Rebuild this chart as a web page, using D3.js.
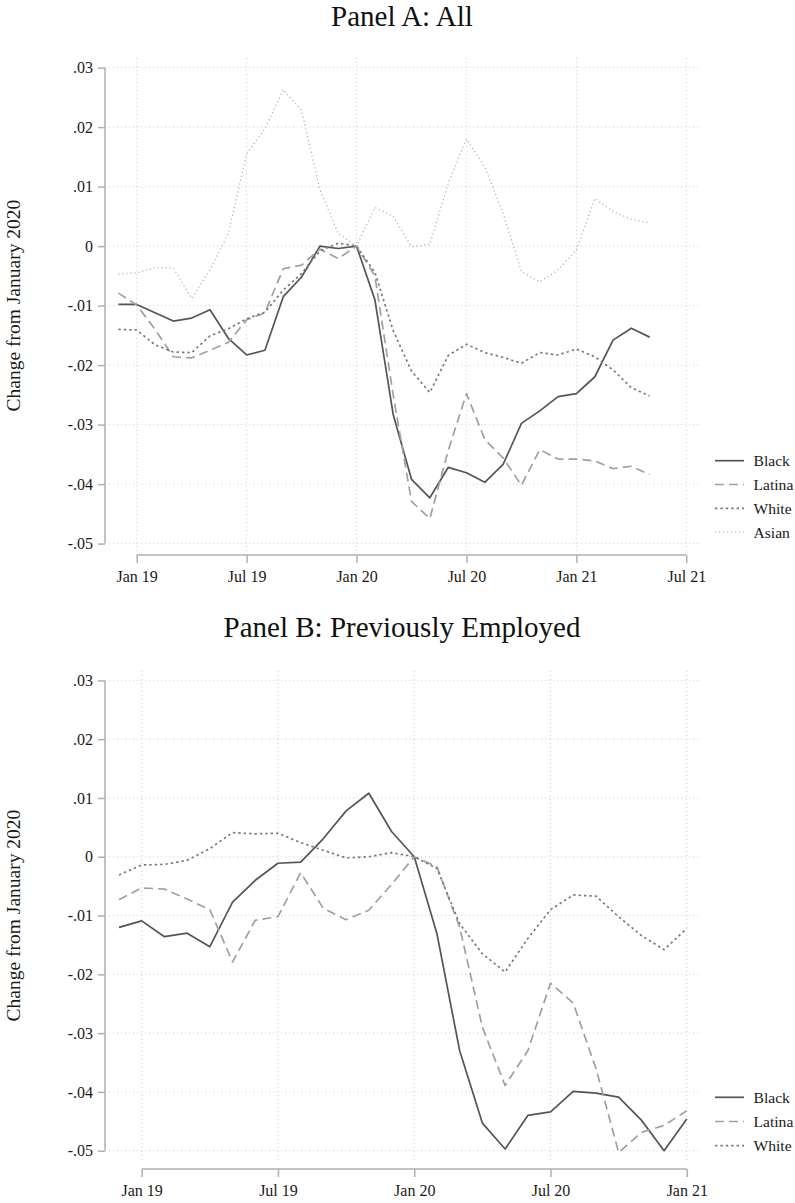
<!DOCTYPE html>
<html>
<head>
<meta charset="utf-8">
<script src="https://cdn.jsdelivr.net/npm/d3@7"></script>
<style>
  html, body { margin: 0; padding: 0; background: #fff; }
  svg { display: block; font-family: "Liberation Serif", "Times New Roman", serif; }
</style>
</head>
<body>
<svg id="chart" width="795" height="1203"></svg>
<script>
// ---- Panel A: All (Dec 2018 – May 2021) ----
const monthsA = ["2018-12","2019-01","2019-02","2019-03","2019-04","2019-05","2019-06","2019-07","2019-08","2019-09","2019-10","2019-11","2019-12","2020-01","2020-02","2020-03","2020-04","2020-05","2020-06","2020-07","2020-08","2020-09","2020-10","2020-11","2020-12","2021-01","2021-02","2021-03","2021-04","2021-05"];
const blackA  = [-0.0098,-0.0098,-0.0112,-0.0126,-0.0121,-0.0107,-0.0155,-0.0183,-0.0175,-0.0085,-0.0052,0.0000,-0.0004,0.0000,-0.0090,-0.0283,-0.0392,-0.0423,-0.0372,-0.0381,-0.0397,-0.0367,-0.0298,-0.0277,-0.0253,-0.0248,-0.0220,-0.0158,-0.0138,-0.0153];
const latinaA = [-0.0079,-0.0099,-0.0140,-0.0186,-0.0188,-0.0175,-0.0162,-0.0124,-0.0112,-0.0038,-0.0032,-0.0005,-0.0021,0.0000,-0.0050,-0.0250,-0.0429,-0.0458,-0.0344,-0.0248,-0.0325,-0.0356,-0.0402,-0.0342,-0.0358,-0.0358,-0.0361,-0.0374,-0.0370,-0.0384];
const whiteA  = [-0.0140,-0.0141,-0.0166,-0.0178,-0.0179,-0.0151,-0.0139,-0.0122,-0.0111,-0.0074,-0.0046,-0.0008,0.0005,0.0000,-0.0044,-0.0142,-0.0210,-0.0246,-0.0184,-0.0165,-0.0179,-0.0187,-0.0197,-0.0179,-0.0183,-0.0173,-0.0186,-0.0208,-0.0238,-0.0252];
const asianA  = [-0.0047,-0.0045,-0.0036,-0.0037,-0.0088,-0.0040,0.0021,0.0155,0.0197,0.0263,0.0228,0.0095,0.0021,0.0000,0.0065,0.0050,-0.0001,0.0003,0.0105,0.0180,0.0133,0.0055,-0.0043,-0.0060,-0.0040,-0.0007,0.0080,0.0058,0.0045,0.0039];

// ---- Panel B: Previously Employed (Dec 2018 – Jan 2021) ----
const monthsB = ["2018-12","2019-01","2019-02","2019-03","2019-04","2019-05","2019-06","2019-07","2019-08","2019-09","2019-10","2019-11","2019-12","2020-01","2020-02","2020-03","2020-04","2020-05","2020-06","2020-07","2020-08","2020-09","2020-10","2020-11","2020-12","2021-01"];
const blackB  = [-0.0120,-0.0109,-0.0136,-0.0130,-0.0153,-0.0077,-0.0040,-0.0011,-0.0009,0.0031,0.0078,0.0108,0.0043,0.0000,-0.0131,-0.0330,-0.0453,-0.0497,-0.0440,-0.0434,-0.0399,-0.0402,-0.0409,-0.0448,-0.0500,-0.0446];
const latinaB = [-0.0073,-0.0053,-0.0055,-0.0072,-0.0090,-0.0179,-0.0108,-0.0102,-0.0027,-0.0088,-0.0107,-0.0091,-0.0047,0.0000,-0.0017,-0.0120,-0.0290,-0.0389,-0.0330,-0.0215,-0.0249,-0.0360,-0.0503,-0.0469,-0.0457,-0.0432];
const whiteB  = [-0.0031,-0.0014,-0.0013,-0.0006,0.0014,0.0041,0.0039,0.0040,0.0024,0.0011,-0.0002,0.0000,0.0007,0.0000,-0.0020,-0.0114,-0.0165,-0.0196,-0.0139,-0.0090,-0.0065,-0.0067,-0.0102,-0.0134,-0.0158,-0.0122];

// ---- Axis ticks ----
const yTicks      = [0.03, 0.02, 0.01, 0, -0.01, -0.02, -0.03, -0.04, -0.05];
const yTickLabels = [".03", ".02", ".01", "0", "-.01", "-.02", "-.03", "-.04", "-.05"];
const xTicksA      = ["2019-01","2019-07","2020-01","2020-07","2021-01","2021-07"];
const xTickLabelsA = ["Jan 19","Jul 19","Jan 20","Jul 20","Jan 21","Jul 21"];
const xTicksB      = ["2019-01","2019-07","2020-01","2020-07","2021-01"];
const xTickLabelsB = ["Jan 19","Jul 19","Jan 20","Jul 20","Jan 21"];

const groupNames = ["Black", "Latina", "White", "Asian"];
const yLabel = "Change from January 2020";

// Line styles per group
const styles = {
  Black:  { stroke: "#555555", width: 1.7, dash: null },
  Latina: { stroke: "#a0a0a0", width: 1.7, dash: "9,5" },
  White:  { stroke: "#7a7a7a", width: 1.7, dash: "2.4,3" },
  Asian:  { stroke: "#b2b2b2", width: 1.3, dash: "1.2,2.8" }
};

// monthly index, 0 = Jan 2019
const monthIndex = s => { const [y, m] = s.split("-").map(Number); return (y - 2019) * 12 + (m - 1); };

const svg = d3.select("#chart");
const textColor = "#1a1a1a";
const axisColor = "#b0b0b0";
const gridColor = "#cfcfcf";
const tickFont = 16;

function drawPanel(cfg) {
  const g = svg.append("g");
  const x = d3.scaleLinear().domain([0, cfg.lastTick]).range([cfg.x0, cfg.x1]);
  const y = d3.scaleLinear().domain([-0.05, 0.03]).range([cfg.yBottom, cfg.yTop]);

  // title
  g.append("text")
    .attr("x", 402).attr("y", cfg.titleY)
    .attr("text-anchor", "middle")
    .attr("font-size", 29).attr("fill", "#111")
    .text(cfg.title);

  // y label
  g.append("text")
    .attr("transform", `translate(${20},${(cfg.yTop + cfg.yBottom) / 2}) rotate(-90)`)
    .attr("text-anchor", "middle")
    .attr("font-size", 19.5).attr("fill", textColor)
    .text(yLabel);

  // grid
  const grid = g.append("g").attr("stroke", gridColor).attr("stroke-width", 1).attr("stroke-dasharray", "1,3").attr("fill", "none");
  yTicks.forEach(t => {
    grid.append("line").attr("x1", cfg.axisX + 4).attr("x2", cfg.gridRight)
      .attr("y1", y(t)).attr("y2", y(t));
  });
  cfg.xTicks.forEach(t => {
    const xp = x(monthIndex(t));
    grid.append("line").attr("x1", xp).attr("x2", xp)
      .attr("y1", cfg.gridTop).attr("y2", cfg.gridBottom);
  });

  // y axis
  const yAxis = d3.axisLeft(y).tickValues(yTicks)
    .tickFormat((d, i) => yTickLabels[i]).tickSize(7).tickPadding(5);
  const ya = g.append("g").attr("transform", `translate(${cfg.axisX},0)`).call(yAxis);
  ya.select(".domain").attr("stroke", axisColor).attr("stroke-width", 1.5).attr("d", `M0,${y(0.03)}V${y(-0.05)}`);
  ya.selectAll(".tick line").attr("stroke", axisColor).attr("stroke-width", 1.5);
  ya.selectAll(".tick text").attr("font-size", tickFont).attr("fill", textColor)
    .attr("font-family", "Liberation Serif, serif");

  // x axis
  const xAxis = d3.axisBottom(x).tickValues(cfg.xTicks.map(monthIndex))
    .tickFormat((d, i) => cfg.xTickLabels[i]).tickSize(8).tickPadding(8);
  const xa = g.append("g").attr("transform", `translate(0,${cfg.axisY})`).call(xAxis);
  xa.select(".domain").attr("stroke", axisColor).attr("stroke-width", 1.5)
    .attr("d", `M${x(0)},0H${x(cfg.lastTick)}`);
  xa.selectAll(".tick line").attr("stroke", axisColor).attr("stroke-width", 1.5);
  xa.selectAll(".tick text").attr("font-size", tickFont).attr("fill", textColor)
    .attr("font-family", "Liberation Serif, serif");

  // series
  const line = d3.line().x(d => x(d.m)).y(d => y(d.v));
  cfg.series.forEach(s => {
    const st = styles[s.name];
    const pts = cfg.months.map((mo, i) => ({ m: monthIndex(mo), v: s.values[i] }));
    g.append("path").datum(pts)
      .attr("d", line)
      .attr("fill", "none")
      .attr("stroke", st.stroke)
      .attr("stroke-width", st.width)
      .attr("stroke-linejoin", "round")
      .attr("stroke-dasharray", st.dash);
  });

  // legend
  cfg.series.forEach((s, i) => {
    const st = styles[s.name];
    const ly = cfg.legendY + i * cfg.legendStep;
    g.append("line").attr("x1", 715).attr("x2", 744).attr("y1", ly).attr("y2", ly)
      .attr("stroke", st.stroke).attr("stroke-width", st.width)
      .attr("stroke-dasharray", st.dash);
    g.append("text").attr("x", 753.5).attr("y", ly + 5.5)
      .attr("font-size", 15.6).attr("fill", textColor).text(s.name);
  });
}

drawPanel({
  title: "Panel A: All", titleY: 26,
  months: monthsA,
  series: [
    { name: groupNames[0], values: blackA },
    { name: groupNames[1], values: latinaA },
    { name: groupNames[2], values: whiteA },
    { name: groupNames[3], values: asianA }
  ],
  xTicks: xTicksA, xTickLabels: xTickLabelsA, lastTick: 30,
  x0: 136.7, x1: 686.3,
  yTop: 67.6, yBottom: 543.6,
  axisX: 105, axisY: 555,
  gridTop: 58, gridBottom: 551, gridRight: 699,
  legendY: 460.7, legendStep: 23.8
});

drawPanel({
  title: "Panel B: Previously Employed", titleY: 637,
  months: monthsB,
  series: [
    { name: groupNames[0], values: blackB },
    { name: groupNames[1], values: latinaB },
    { name: groupNames[2], values: whiteB }
  ],
  xTicks: xTicksB, xTickLabels: xTickLabelsB, lastTick: 24,
  x0: 141.7, x1: 686.8,
  yTop: 680.4, yBottom: 1150.7,
  axisX: 105, axisY: 1169,
  gridTop: 671, gridBottom: 1163, gridRight: 699,
  legendY: 1097.3, legendStep: 24.2
});
</script>
</body>
</html>
